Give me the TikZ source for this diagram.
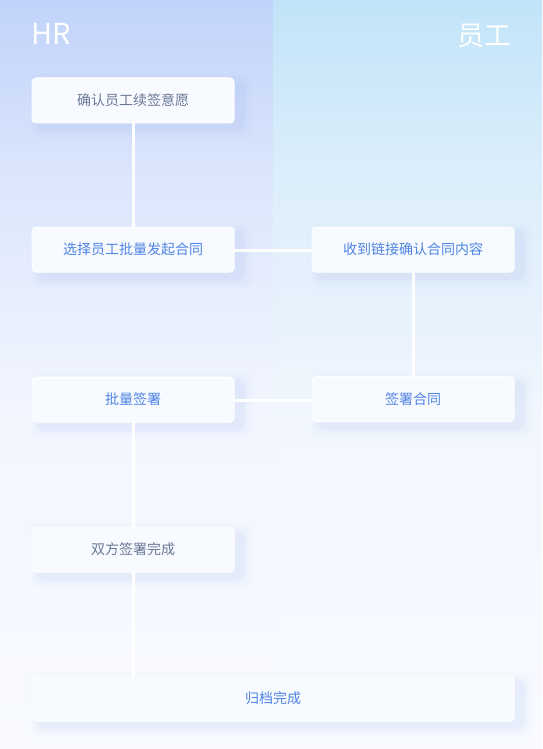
\documentclass[tikz,border=0pt]{standalone}
\usepackage{fontspec}
\setmainfont{Noto Sans CJK SC}
\usetikzlibrary{positioning}
\definecolor{boxfill}{HTML}{F7FAFF}
\definecolor{txtblue}{HTML}{4F84E3}
\definecolor{txtgray}{HTML}{6A7896}
\definecolor{shadowc}{HTML}{8FA8F0}
\definecolor{bgbot}{HTML}{F8FAFF}
\definecolor{lA}{HTML}{F3F6FF}
\definecolor{lB}{HTML}{E7EEFD}
\definecolor{lC}{HTML}{DCE6FC}
\definecolor{lD}{HTML}{C0D3FA}
\definecolor{rA}{HTML}{F2F7FE}
\definecolor{rB}{HTML}{E6F1FC}
\definecolor{rC}{HTML}{DCEEFB}
\definecolor{rD}{HTML}{C2E4F8}
\pgfdeclareverticalshading{leftbg}{100bp}{color(0bp)=(bgbot); color(25bp)=(bgbot); color(47bp)=(lA); color(55bp)=(lB); color(63bp)=(lC); color(75bp)=(lD); color(100bp)=(lD)}
\pgfdeclareverticalshading{rightbg}{100bp}{color(0bp)=(bgbot); color(25bp)=(bgbot); color(47bp)=(rA); color(55bp)=(rB); color(63bp)=(rC); color(75bp)=(rD); color(100bp)=(rD)}
\tikzset{
  stepbox/.style={draw=white, line width=1pt, fill=boxfill, rounded corners=4pt,
    minimum width=202pt, minimum height=45pt, inner sep=0pt, font=\fontsize{14pt}{16pt}\selectfont},
  bluetxt/.style={text=txtblue},
  graytxt/.style={text=txtgray},
  link/.style={draw=white, line width=3pt},
  header/.style={text=white, inner sep=0pt},
}
\newcommand{\softshadow}[4]{% x1 y1 x2 y2
  \foreach \s/\o in {10/0.025,7/0.035,4/0.045,2/0.05}{
    \fill[shadowc, opacity=\o, rounded corners=8pt] (#1+8-\s,#2+6-\s) rectangle (#3+8+\s,#4+6+\s);
  }
}
\begin{document}
\begin{tikzpicture}[x=1pt,y=-1pt]
\useasboundingbox (0,0) rectangle (542,749);
\shade[shading=leftbg] (0,0) rectangle (273,749);
\shade[shading=rightbg] (273,0) rectangle (542,749);

\node[header, anchor=north west, font=\fontsize{29pt}{29pt}\selectfont] (hr) at (31,23) {HR};
\node[header, anchor=north east, font=\fontsize{27pt}{27pt}\selectfont] (yg) at (512,24) {员工};

% shadows
\softshadow{32}{78}{234}{123}
\softshadow{32}{227}{234}{272}
\softshadow{312}{227}{514}{272}
\softshadow{32}{377}{234}{422}
\softshadow{312}{377}{514}{421}
\softshadow{32}{527}{234}{572}
\softshadow{32}{676}{514}{721}

% connectors (drawn beneath boxes)
\coordinate (c1) at (133,100);
\coordinate (c2) at (133,250);
\coordinate (c3) at (413,250);
\coordinate (c4) at (133,400);
\coordinate (c5) at (413,400);
\coordinate (c6) at (133,550);
\coordinate (c7) at (133,699);
\draw[link] (c1) -- (c2);
\draw[link] (c2) -- (c3);
\draw[link] (c3) -- (c5);
\draw[link] (c5) -- (c4);
\draw[link] (c4) -- (c6);
\draw[link] (c6) -- (c7);

\node[stepbox, graytxt] (n1) at (133,100.5) {确认员工续签意愿};
\node[stepbox, bluetxt] (n2) at (133,249.5) {选择员工批量发起合同};
\node[stepbox, bluetxt] (n3) at (413,249.5) {收到链接确认合同内容};
\node[stepbox, bluetxt] (n4) at (133,399.5) {批量签署};
\node[stepbox, bluetxt] (n5) at (413,399) {签署合同};
\node[stepbox, graytxt] (n6) at (133,549.5) {双方签署完成};
\node[stepbox, bluetxt, minimum width=482pt] (n7) at (273,698.5) {归档完成};
\end{tikzpicture}
\end{document}
